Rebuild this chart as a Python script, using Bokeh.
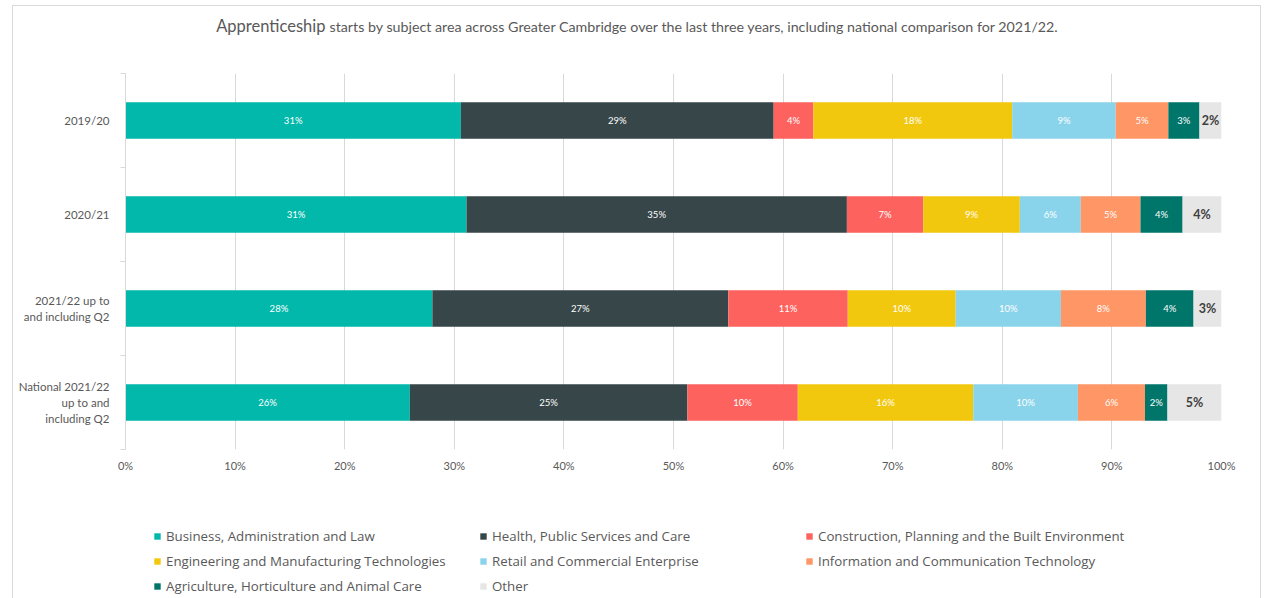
from bokeh.plotting import figure
from bokeh.models import Range1d, FixedTicker, Legend, LegendItem, Spacer
from bokeh.layouts import column, row
from bokeh.core.properties import value
from bokeh.embed import file_html
from bokeh.resources import INLINE

periods = ["2019/20", "2020/21", "2021/22 up to\nand including Q2",
           "National 2021/22\nup to and\nincluding Q2"]
subjects = ["Business, Administration and Law", "Health, Public Services and Care",
            "Construction, Planning and the Built Environment",
            "Engineering and Manufacturing Technologies", "Retail and Commercial Enterprise",
            "Information and Communication Technology",
            "Agriculture, Horticulture and Animal Care", "Other"]
colors = ["#01B8AA", "#374649", "#FD625E", "#F2C80F", "#8AD4EB", "#FE9666", "#00756A", "#E6E6E6"]

business = [30.6, 31.11, 28.0, 25.94]
health = [28.54, 34.71, 27.0, 25.33]
construction = [3.62, 6.97, 10.9, 10.07]
engineering = [18.14, 8.81, 9.85, 16.01]
retail = [9.45, 5.56, 9.6, 9.55]
ict = [4.8, 5.45, 7.75, 6.12]
agriculture = [2.84, 3.84, 4.35, 2.05]
other = [2.01, 3.55, 2.55, 4.93]
series = [business, health, construction, engineering, retail, ict, agriculture, other]

x_ticks = [0, 10, 20, 30, 40, 50, 60, 70, 80, 90, 100]
x_tick_labels = [f"{t}%" for t in x_ticks]

title_big = "Apprenticeship"
title_rest = "starts by subject area across Greater Cambridge over the last three years, including national comparison for 2021/22."

FONT = "Lato"
LFONT = "Open Sans"
ys = [3.5, 2.5, 1.5, 0.5]
W = 1247
BL, BR = 112, 39          # side borders shared by all stacked figures (frames align)
FX0, FX1 = 125, 1221      # page x of the plot frame edges


def strip(y_top, y_bottom):
    f = figure(width=W, height=y_bottom - y_top, output_backend="svg", toolbar_location=None,
               x_range=Range1d(FX0, FX1), y_range=Range1d(y_bottom, y_top),
               min_border_left=BL, min_border_right=BR, min_border_top=0, min_border_bottom=0,
               x_axis_location=None, y_axis_location=None)
    f.outline_line_color = None
    f.xgrid.grid_line_color = None
    f.ygrid.grid_line_color = None
    return f


# ---- title strip (page pixel coordinates)
tf = strip(6, 46)
tf.text(x=[325], y=[25], text=[title_big], text_align="right", text_baseline="middle",
        text_font=value(FONT), text_font_size="16.5px", text_color="#595959")
tf.text(x=[329], y=[25.5], text=[title_rest], text_align="left", text_baseline="middle",
        text_font=value(FONT), text_font_size="14.25px", text_color="#595959")

# ---- main chart
p = figure(width=W, height=434, output_backend="svg", toolbar_location=None,
           x_range=Range1d(0, 100), y_range=Range1d(0, 4),
           min_border_left=BL, min_border_right=BR, min_border_top=27, min_border_bottom=31)
p.outline_line_color = None

left = [0.0] * 4
for name, vals, col in zip(subjects, series, colors):
    right = [l + v for l, v in zip(left, vals)]
    p.hbar(y=ys, left=left, right=right, height=0.39, fill_color=col, line_color=None)
    mids = [(l + rr) / 2 for l, rr in zip(left, right)]
    labels = [f"{int(v + 0.5)}%" for v in vals]
    if name == "Other":
        p.text(x=mids, y=ys, text=labels, text_align="center", text_baseline="middle",
               text_font=value(FONT), text_font_size="12.5px", text_color="#404040",
               text_font_style="bold")
    else:
        p.text(x=mids, y=ys, text=labels, text_align="center", text_baseline="middle",
               text_font=value(FONT), text_font_size="9.5px", text_color="white")
    left = right

p.xaxis.ticker = FixedTicker(ticks=x_ticks)
p.xaxis.major_label_overrides = {t: l for t, l in zip(x_ticks, x_tick_labels)}
p.xaxis.axis_line_color = None
p.xaxis.major_tick_line_color = None
p.xaxis.minor_tick_line_color = None
p.xaxis.major_tick_out = 0
p.xaxis.major_label_standoff = 9
p.xaxis.major_label_text_font = FONT
p.xaxis.major_label_text_font_size = "11px"
p.xaxis.major_label_text_color = "#595959"

p.yaxis.ticker = FixedTicker(ticks=ys, minor_ticks=[0, 1, 2, 3, 4])
p.yaxis.major_label_overrides = {y: l for y, l in zip(ys, periods)}
p.yaxis.axis_line_color = "#d9d9d9"
p.yaxis.major_tick_line_color = None
p.yaxis.major_tick_out = 0
p.yaxis.minor_tick_line_color = "#d9d9d9"
p.yaxis.minor_tick_out = 5
p.yaxis.minor_tick_in = 0
p.yaxis.major_label_standoff = 11
p.yaxis.major_label_text_font = FONT
p.yaxis.major_label_text_font_size = "11.5px"
p.yaxis.major_label_text_color = "#595959"

p.xgrid.ticker = FixedTicker(ticks=x_ticks)
p.xgrid.grid_line_color = "#d9d9d9"
p.ygrid.grid_line_color = None

# ---- legend strip
lf = strip(480, 598)
nan = float("nan")
swatches = [lf.hbar(y=[nan], left=[nan], right=[nan], height=1, fill_color=c, line_color=None)
            for c in colors]
legend = Legend(items=[LegendItem(label=s, renderers=[r]) for s, r in zip(subjects, swatches)],
                ncols=3, orientation="horizontal", location=(28, 2),
                glyph_width=8, glyph_height=8, label_standoff=5, label_width=308,
                label_height=20, spacing=5, padding=0, margin=0,
                label_text_font=LFONT, label_text_font_size="13.3px", label_text_color="#595959",
                border_line_color=None, background_fill_alpha=0)
lf.add_layout(legend, "center")

chart = column(tf, p, lf, styles={"border": "1px solid #d9d9d9", "border-bottom": "none"})
layout = column(Spacer(width=10, height=5), row(Spacer(width=12, height=10), chart))

open("out.html", "w").write(file_html(layout, INLINE))
